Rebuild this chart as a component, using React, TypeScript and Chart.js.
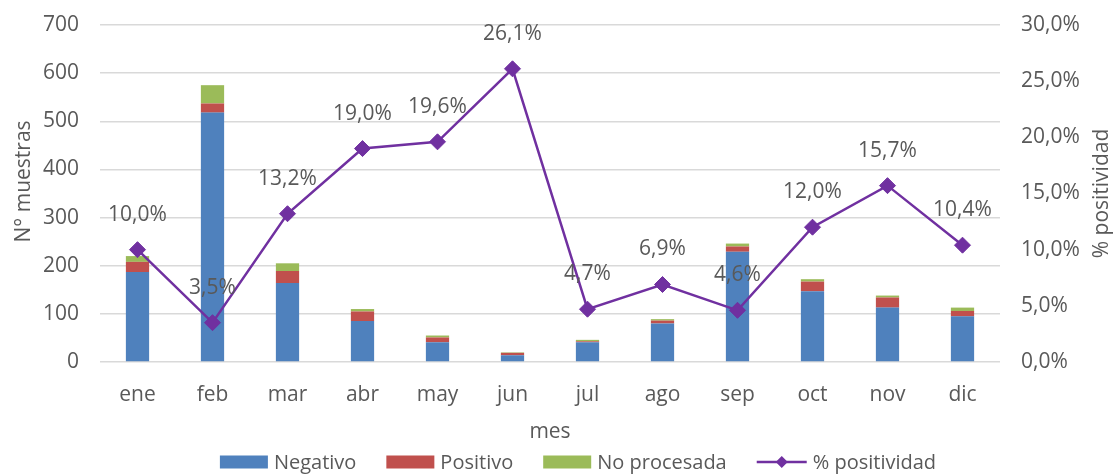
import React, { useEffect, useRef } from "react";
import { Chart, registerables } from "chart.js";

Chart.register(...registerables);

const months = ["ene", "feb", "mar", "abr", "may", "jun", "jul", "ago", "sep", "oct", "nov", "dic"];
const negativo = [187, 518, 164, 85, 41, 14, 41, 80, 229, 147, 113, 95];
const positivo = [21, 19, 25, 20, 10, 5, 2, 6, 11, 20, 21, 11];
const noProcesada = [12, 38, 16, 5, 4, 1, 3, 3, 6, 5, 4, 7];
const positividad = [10.0, 3.5, 13.2, 19.0, 19.6, 26.1, 4.7, 6.9, 4.6, 12.0, 15.7, 10.4];

const leftAxisMax = 700;
const leftAxisStep = 100;
const rightAxisMax = 30;
const rightAxisStep = 5;

const seriesNames = ["Negativo", "Positivo", "No procesada", "% positividad"];
const colors = ["#4f81bd", "#c0504d", "#9bbb59", "#7030a0"];
const xTitle = "mes";
const yTitle = "N° muestras";
const y1Title = "% positividad";

const FONT = "'Open Sans', 'Liberation Sans', sans-serif";
const TEXT = "#595959";

const fmtPct = (v: number) => v.toFixed(1).replace(".", ",") + "%";

const PLOT_LEFT = 100;
const PLOT_RIGHT = 1000;
const PLOT_TOP = 25;
const PLOT_BOTTOM = 362;
const LEGEND_SPACE = 30;

const extrasPlugin = {
  id: "extras",
  afterDatasetsDraw(chart: any) {
    const ctx = chart.ctx;
    const meta = chart.getDatasetMeta(0);
    ctx.save();
    ctx.font = `21px ${FONT}`;
    ctx.fillStyle = TEXT;
    ctx.textAlign = "center";
    ctx.textBaseline = "middle";
    meta.data.forEach((pt: any, i: number) => {
      ctx.fillText(fmtPct(positividad[i]), pt.x, pt.y - 35);
    });
    ctx.restore();
  },
  afterDraw(chart: any) {
    const ctx = chart.ctx;
    const area = chart.chartArea;
    ctx.save();
    ctx.fillStyle = TEXT;
    ctx.font = `21px ${FONT}`;
    ctx.textAlign = "center";
    ctx.textBaseline = "middle";
    const cy = (area.top + area.bottom) / 2;
    // left title
    ctx.save();
    ctx.translate(24, cy - 12);
    ctx.rotate(-Math.PI / 2);
    ctx.fillText(yTitle, 0, 0);
    ctx.restore();
    // right title
    ctx.save();
    ctx.translate(chart.width - 15, cy);
    ctx.rotate(-Math.PI / 2);
    ctx.fillText(y1Title, 0, 0);
    ctx.restore();

    // legend
    ctx.font = `20px ${FONT}`;
    const boxW = 48, boxH = 13, gapText = 6, gapItem = 30, lineW = 50;
    const widths = seriesNames.map((n, i) => (i < 3 ? boxW : lineW) + gapText + ctx.measureText(n).width);
    const total = widths.reduce((a, b) => a + b, 0) + gapItem * (widths.length - 1);
    let x = 578 - total / 2;
    const ly = 462;
    ctx.textAlign = "left";
    seriesNames.forEach((n, i) => {
      if (i < 3) {
        ctx.fillStyle = colors[i];
        ctx.fillRect(x, ly - boxH / 2, boxW, boxH);
        x += boxW;
      } else {
        ctx.strokeStyle = colors[i];
        ctx.lineWidth = 2.5;
        ctx.beginPath();
        ctx.moveTo(x, ly);
        ctx.lineTo(x + lineW, ly);
        ctx.stroke();
        ctx.fillStyle = colors[i];
        const cx = x + lineW / 2, r = 6;
        ctx.beginPath();
        ctx.moveTo(cx - r, ly);
        ctx.lineTo(cx, ly - r);
        ctx.lineTo(cx + r, ly);
        ctx.lineTo(cx, ly + r);
        ctx.closePath();
        ctx.fill();
        x += lineW;
      }
      x += gapText;
      ctx.fillStyle = TEXT;
      ctx.fillText(n, x, ly + 1);
      x += ctx.measureText(n).width + gapItem;
    });
    ctx.restore();
  },
};

export default function App() {
  const ref = useRef<HTMLCanvasElement | null>(null);

  useEffect(() => {
    if (!ref.current) return;
    const chart = new Chart(ref.current, {
      type: "bar",
      data: {
        labels: months,
        datasets: [
          {
            type: "line",
            label: seriesNames[3],
            data: positividad,
            yAxisID: "y1",
            borderColor: colors[3],
            backgroundColor: colors[3],
            borderWidth: 2.5,
            pointStyle: "rectRot",
            pointRadius: 8,
            pointBorderWidth: 1,
            pointBackgroundColor: colors[3],
            tension: 0,
            order: 0,
          } as any,
          {
            label: seriesNames[0],
            data: negativo,
            backgroundColor: colors[0],
            yAxisID: "y",
            order: 1,
            barPercentage: 0.31,
            categoryPercentage: 1,
          },
          {
            label: seriesNames[1],
            data: positivo,
            backgroundColor: colors[1],
            yAxisID: "y",
            order: 1,
            barPercentage: 0.31,
            categoryPercentage: 1,
          },
          {
            label: seriesNames[2],
            data: noProcesada,
            backgroundColor: colors[2],
            yAxisID: "y",
            order: 1,
            barPercentage: 0.31,
            categoryPercentage: 1,
          },
        ],
      },
      plugins: [extrasPlugin],
      options: {
        responsive: false,
        animation: false,
        layout: { padding: { top: PLOT_TOP, bottom: LEGEND_SPACE, left: 0, right: 0 } },
        plugins: {
          legend: { display: false },
          tooltip: { enabled: false },
        },
        scales: {
          x: {
            stacked: true,
            grid: { display: false },
            border: { display: false },
            ticks: { color: TEXT, font: { family: FONT, size: 21 }, padding: 12 },
            title: {
              display: true,
              text: xTitle,
              color: TEXT,
              font: { family: FONT, size: 21 },
              padding: { top: 0, bottom: 0 },
            },
            afterFit: (s: any) => {
              s.height = s.chart.height - PLOT_BOTTOM - LEGEND_SPACE;
              s.paddingLeft = 0;
              s.paddingRight = 0;
            },
          },
          y: {
            stacked: true,
            position: "left",
            min: 0,
            max: leftAxisMax,
            grid: { color: "#d9d9d9", lineWidth: 1.5, drawTicks: false },
            border: { display: false },
            ticks: {
              stepSize: leftAxisStep,
              color: TEXT,
              font: { family: FONT, size: 21 },
              padding: 21,
            },
            afterFit: (s: any) => {
              s.width = PLOT_LEFT;
              s.paddingTop = 0;
              s.paddingBottom = 0;
            },
          },
          y1: {
            position: "right",
            min: 0,
            max: rightAxisMax,
            grid: { display: false, drawTicks: false },
            border: { display: false },
            ticks: {
              stepSize: rightAxisStep,
              color: TEXT,
              font: { family: FONT, size: 21 },
              padding: 21,
              callback: (v: any) => fmtPct(Number(v)),
            },
            afterFit: (s: any) => {
              s.width = s.chart.width - PLOT_RIGHT;
              s.paddingTop = 0;
              s.paddingBottom = 0;
            },
          },
        },
      },
    });
    return () => chart.destroy();
  }, []);

  return (
    <div style={{ position: "fixed", left: 0, top: 0, width: 1117, height: 475, background: "#fff" }}>
      <canvas ref={ref} width={1117} height={475} style={{ width: 1117, height: 475, display: "block" }} />
    </div>
  );
}
